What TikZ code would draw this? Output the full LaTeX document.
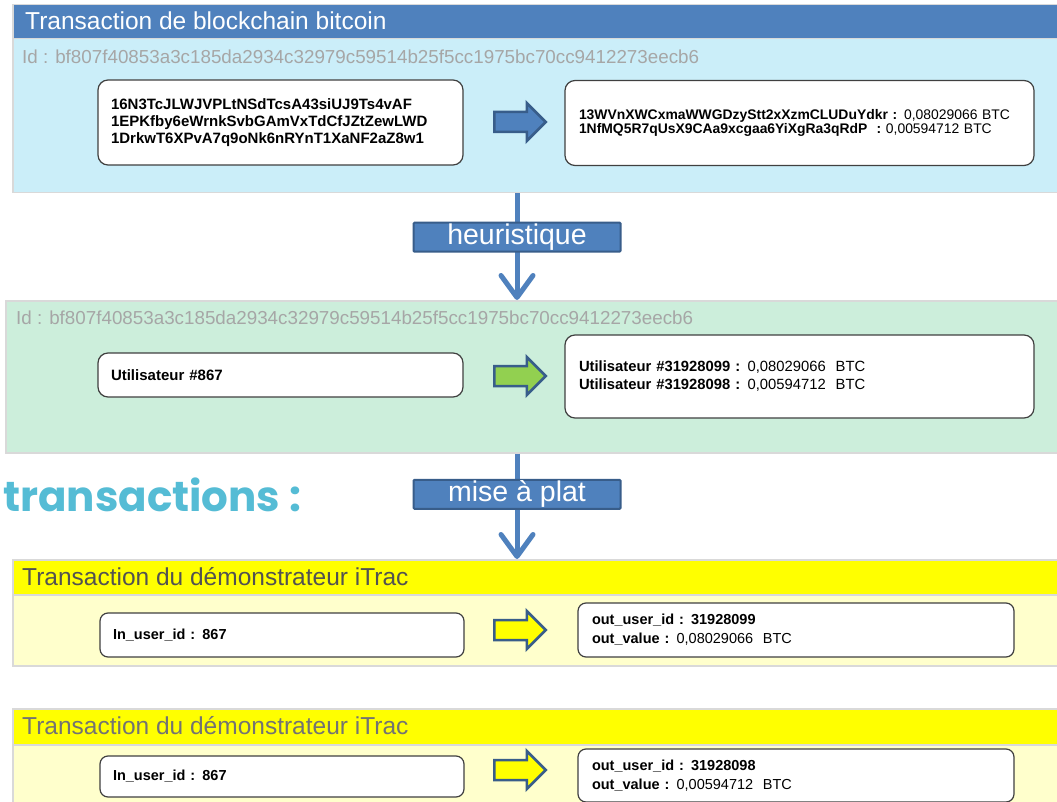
\documentclass[tikz,border=0pt]{standalone}
\usepackage{fontspec}
\setmainfont{Liberation Sans}
\newfontfamily\poppins{Poppins}
\usetikzlibrary{arrows.meta,shapes.arrows}
\definecolor{hdrblue}{HTML}{4F81BD}
\definecolor{darkblue}{HTML}{385D8A}
\definecolor{lightcyan}{HTML}{CBEEF9}
\definecolor{lightgreen}{HTML}{CCEEDB}
\definecolor{lightyellow}{HTML}{FFFFCC}
\definecolor{pureyellow}{HTML}{FFFF00}
\definecolor{panelborder}{HTML}{D9D9D9}
\definecolor{idgray}{HTML}{A6A6A6}
\definecolor{boxborder}{HTML}{404040}
\definecolor{arrowgreen}{HTML}{92D050}
\definecolor{bigtitle}{HTML}{55BCD5}
\newcommand\myfs[2]{\fontsize{#1}{#2}\selectfont}
\begin{document}
\begin{tikzpicture}[x=1pt,y=-1pt,
  panel/.style={draw=panelborder, line width=1.5pt, anchor=north west, inner sep=0pt},
  hdrtext/.style={anchor=west, inner sep=0pt, font=\myfs{24.5}{27}},
  idtext/.style={anchor=west, inner sep=0pt, text=idgray, font=\myfs{18.8}{21}},
  box/.style={draw=boxborder, line width=1.2pt, fill=white, rounded corners=10pt, inner xsep=13pt, inner ysep=0pt, align=left},
  blockarrow/.style={single arrow, draw=darkblue, line width=2.5pt, minimum height=51.5pt,
    single arrow head extend=9pt, inner xsep=0pt, inner ysep=8.75pt, text height=0pt, text depth=0pt},
  varrow/.style={draw=hdrblue, line width=5pt, -{Straight Barb[length=22pt,width=32pt,round]}},
  lab/.style={fill=hdrblue, draw=darkblue, line width=2pt, rounded corners=1pt, text=white,
    font=\myfs{28.5}{30}, minimum width=207pt, minimum height=29pt, inner sep=0pt}
]
\clip (0,0) rectangle (1057,802);
\fill[white] (0,0) rectangle (1057,802);

% ---------- section 1 : bitcoin transaction
\node[panel, fill=hdrblue, minimum width=1050pt, minimum height=34pt] (p1head) at (12,4) {};
\node[panel, fill=lightcyan, minimum width=1050pt, minimum height=154pt] (p1body) at (12,38) {};
\node[hdrtext, text=white] (t1) at (25,21) {Transaction de blockchain bitcoin};
\node[idtext] (id1) at (22,57) {Id : bf807f40853a3c185da2934c32979c59514b25f5cc1975bc70cc9412273eecb6};
\node[box, minimum width=365pt, minimum height=85pt, text width=339pt, font=\bfseries\myfs{15}{16.7}] (b1L) at (280.5,122.5)
  {16N3TcJLWJVPLtNSdTcsA43siUJ9Ts4vAF\\1EPKfby6eWrnkSvbGAmVxTdCfJZtZewLWD\\1DrkwT6XPvA7q9oNk6nRYnT1XaNF2aZ8w1};
\node[blockarrow, fill=hdrblue] (a1) at (515,122) {};
\node[box, minimum width=469pt, minimum height=85pt, text width=441pt, font=\myfs{13.9}{14.5}] (b1R) at (799.5,123)
  {\textbf{13WVnXWCxmaWWGDzyStt2xXzmCLUDuYdkr :} 0,08029066 BTC\\\textbf{1NfMQ5R7qUsX9CAa9xcgaa6YiXgRa3qRdP~ :} 0,00594712 BTC};

% ---------- section 2 : users
\node[panel, fill=lightgreen, minimum width=1060pt, minimum height=152pt] (p2) at (5,300) {};
\node[idtext] (id2) at (16,318) {Id : bf807f40853a3c185da2934c32979c59514b25f5cc1975bc70cc9412273eecb6};
\node[box, minimum width=365pt, minimum height=44pt, text width=339pt, font=\bfseries\myfs{15}{16}] (b2L) at (280.5,375) {Utilisateur \#867};
\node[blockarrow, fill=arrowgreen] (a2) at (515,376) {};
\node[box, minimum width=469pt, minimum height=83pt, text width=441pt, font=\myfs{14.8}{18}] (b2R) at (799.5,376.5)
  {\textbf{Utilisateur \#31928099 :} 0,08029066~ BTC\\\textbf{Utilisateur \#31928098 :} 0,00594712~ BTC};

\draw[varrow] (p1body.south -| 517,0) -- node[lab, pos=0.41] (l1) {heuristique} (p2.north -| 517,0);

% ---------- big title
\node[anchor=base west, inner sep=0pt, text=bigtitle, font=\poppins\bfseries\myfs{42}{46}] (bt) at (3,511) {transactions :};

% ---------- section 3 : iTrac transaction 1
\node[panel, fill=pureyellow, minimum width=1050pt, minimum height=35pt] (p3head) at (12,559) {};
\node[panel, fill=lightyellow, minimum width=1050pt, minimum height=71pt] (p3body) at (12,594) {};
\node[hdrtext, text=black!68] (t3) at (22,577) {Transaction du démonstrateur iTrac};
\node[box, rounded corners=8pt, minimum width=364pt, minimum height=44pt, text width=338pt, font=\bfseries\myfs{14.5}{16}] (b3L) at (282,635) {In\_user\_id : 867};
\node[blockarrow, fill=pureyellow] (a3) at (515,630) {};
\node[box, rounded corners=8pt, minimum width=436pt, minimum height=54pt, text width=408pt, font=\myfs{14.5}{19}] (b3R) at (796,630)
  {\textbf{out\_user\_id : 31928099}\\\textbf{out\_value :} 0,08029066~ BTC};

\draw[varrow] (p2.south -| 517,0) -- node[lab, pos=0.387] (l2) {mise à plat} (p3head.north -| 517,0);

% ---------- section 4 : iTrac transaction 2
\node[panel, fill=pureyellow, minimum width=1050pt, minimum height=36pt] (p4head) at (12,708) {};
\node[panel, fill=lightyellow, minimum width=1050pt, minimum height=70pt] (p4body) at (12,744) {};
\node[hdrtext, text=black!55] (t4) at (22,726) {Transaction du démonstrateur iTrac};
\node[box, rounded corners=8pt, minimum width=364pt, minimum height=41pt, text width=338pt, font=\bfseries\myfs{14.5}{16}] (b4L) at (282,776.5) {In\_user\_id : 867};
\node[blockarrow, fill=pureyellow] (a4) at (515,770) {};
\node[box, rounded corners=8pt, minimum width=436pt, minimum height=53pt, text width=408pt, font=\myfs{14.5}{19}] (b4R) at (796,775.5)
  {\textbf{out\_user\_id : 31928098}\\\textbf{out\_value :} 0,00594712~ BTC};
\end{tikzpicture}
\end{document}
